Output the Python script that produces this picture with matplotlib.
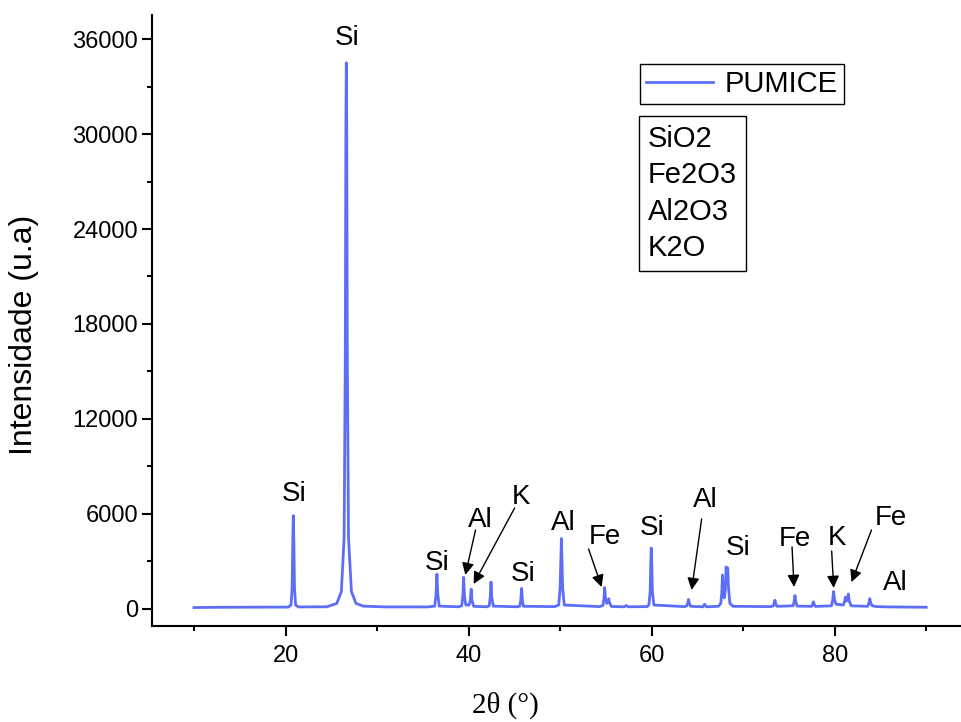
import matplotlib
matplotlib.use("Agg")
import matplotlib.pyplot as plt
from matplotlib.ticker import MultipleLocator

# XRD pattern of pumice (2theta in degrees, counts)
two_theta = [
    10.0, 13.5, 20.3,
    20.6, 20.72, 20.79, 20.85, 20.91, 20.98, 21.1, 21.4,
    24.5,
    25.6, 26.1, 26.4, 26.53, 26.59, 26.64, 26.69, 26.75, 26.88, 27.2, 27.7, 28.5,
    31.0, 35.5,
    36.3, 36.44, 36.54, 36.64, 36.8,
    38.9,
    39.25, 39.37, 39.46, 39.55, 39.7,
    40.05, 40.19, 40.28, 40.37, 40.55,
    42.0,
    42.25, 42.36, 42.45, 42.54, 42.7,
    45.3,
    45.6, 45.7, 45.79, 45.88, 46.0,
    49.4,
    49.85, 50.0, 50.08, 50.14, 50.2, 50.28, 50.45,
    54.3,
    54.68, 54.79, 54.87, 54.96, 55.1, 55.25, 55.32, 55.4, 55.6,
    57.0, 57.24, 57.45,
    59.5,
    59.7, 59.84, 59.9, 59.96, 60.02, 60.08, 60.25,
    63.6,
    63.85, 63.95, 64.03, 64.11, 64.25,
    65.6, 65.79, 65.98,
    67.3,
    67.55, 67.66, 67.74, 67.82, 67.93, 68.05, 68.14, 68.22, 68.31, 68.4, 68.55, 68.9,
    73.0,
    73.3, 73.39, 73.47, 73.56, 73.7,
    75.45, 75.56, 75.66, 75.76, 75.9,
    77.5, 77.59, 77.67, 77.76, 77.9,
    79.65, 79.78, 79.88, 79.98, 80.15,
    80.95, 81.07, 81.17, 81.27, 81.38, 81.49, 81.59, 81.8,
    83.6, 83.74, 83.84, 83.94, 84.1,
    84.6, 86.0, 88.0, 90.0,
]
intensity = [
    90, 110, 120,
    250, 1300, 4200, 5900, 4200, 1300, 250, 130,
    140,
    350, 1100, 4500, 16000, 30000, 34500, 30000, 16000, 4500, 1100, 350, 180,
    130, 130,
    180, 900, 2200, 900, 180,
    140,
    200, 800, 2000, 800, 250,
    250, 550, 1250, 550, 170,
    140,
    200, 700, 1700, 700, 180,
    140,
    180, 550, 1300, 550, 170,
    150,
    250, 1300, 3100, 4450, 3100, 1300, 250,
    150,
    220, 650, 1350, 650, 350, 450, 650, 400, 160,
    140, 220, 140,
    150,
    250, 1100, 2700, 3850, 2700, 1100, 250,
    150,
    200, 380, 600, 380, 170,
    140, 300, 140,
    170,
    350, 1000, 2150, 1200, 700, 1200, 2650, 2200, 2600, 1300, 350, 170,
    150,
    200, 350, 550, 330, 170,
    200, 450, 850, 450, 180,
    170, 300, 450, 300, 160,
    200, 550, 1100, 600, 300,
    250, 450, 750, 500, 550, 950, 500, 200,
    170, 380, 650, 380, 200,
    150, 130, 120, 110,
]

# phase labels: text, text position, arrow tail and tip (None = no arrow)
labels = ["Si", "Si", "Si", "Al", "K", "Si", "Al", "Fe", "Si", "Al",
          "Si", "Fe", "K", "Fe", "Al"]
label_x = [20.98, 26.78, 36.6, 41.3, 45.7, 46.0, 50.38, 54.86, 60.1, 65.9,
           69.5, 75.67, 80.2, 86.1, 86.6]
label_y = [7260, 36060, 2900, 5620, 7070, 2210, 5430, 4550, 5120, 6880,
           3850, 4420, 4480, 5750, 1640]
arrow_tail = [None, None, None, (40.76, 4990), (45.03, 6380), None, None,
              (53.11, 3790), None, (65.46, 5680), None, (75.34, 3920),
              (79.67, 3660), (84.02, 4990), None]
arrow_tip = [None, None, None, (39.64, 2150), (40.55, 1580), None, None,
             (54.54, 1390), None, (64.37, 1200), None, (75.56, 1390),
             (79.89, 1330), (81.84, 1700), None]

phases = ["SiO2", "Fe2O3", "Al2O3", "K2O"]

W, H = 961, 722
fig = plt.figure(figsize=(W / 100, H / 100), dpi=100)
plt.rcParams['font.family'] = ['Liberation Sans', 'DejaVu Sans']
ax = fig.add_axes([152 / W, (H - 626) / H, (W - 152) / W, (626 - 15) / H])

ax.plot(two_theta, intensity, color='#5c6ef8', lw=2.0, label='PUMICE')

ax.set_xlim(5.41, 93.8)
ax.set_ylim(-1074, 37516)
ax.xaxis.set_major_locator(MultipleLocator(20))
ax.xaxis.set_minor_locator(MultipleLocator(10))
ax.yaxis.set_major_locator(MultipleLocator(6000))
ax.yaxis.set_minor_locator(MultipleLocator(3000))

for side in ['top', 'right']:
    ax.spines[side].set_visible(False)
for side in ['left', 'bottom']:
    ax.spines[side].set_linewidth(1.5)
ax.tick_params(which='major', length=7, width=1.5, labelsize=17)
ax.tick_params(which='minor', length=3.5, width=1.5)
ax.tick_params(axis='x', which='major', pad=7)
ax.tick_params(axis='y', which='major', pad=3)

# phase annotations
for i, txt in enumerate(labels):
    ax.text(label_x[i], label_y[i], txt, fontsize=20, ha='center', va='center')
    if arrow_tip[i] is not None:
        ax.annotate('', xy=arrow_tip[i], xytext=arrow_tail[i],
                    arrowprops=dict(arrowstyle='-|>', color='black', lw=1,
                                    mutation_scale=18, shrinkA=0, shrinkB=0))

leg = ax.legend(loc='upper left', bbox_to_anchor=(640 / W, 1 - 64 / H),
                bbox_transform=fig.transFigure, fontsize=21, frameon=True,
                fancybox=False, edgecolor='black', framealpha=1,
                handlelength=2.3, handletextpad=0.4, borderpad=0.2,
                borderaxespad=0)
leg.get_frame().set_linewidth(1)

fig.text(648 / W, 1 - 125 / H, "\n".join(phases), fontsize=21, ha='left',
         va='top', linespacing=1.38,
         bbox=dict(boxstyle='square,pad=0.3', fc='white', ec='black', lw=1))

fig.text(505 / W, 1 - 705 / H, "2θ (°)", fontsize=21, ha='center',
         va='center', family=['Liberation Serif', 'DejaVu Serif'])
fig.text(24 / W, 1 - 335 / H, "Intensidade (u.a)", fontsize=23,
         rotation=90, ha='center', va='center')

fig.savefig('out.png', dpi=100)
